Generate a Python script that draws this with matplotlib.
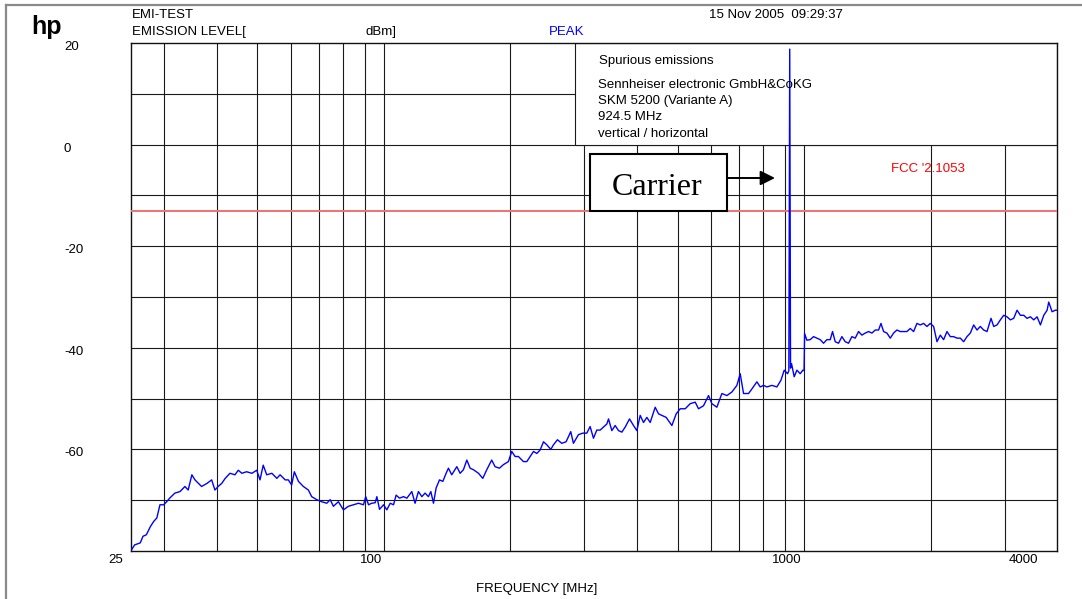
import matplotlib.pyplot as plt
import matplotlib.transforms as mtransforms
from matplotlib.lines import Line2D
from matplotlib.patches import Rectangle
from matplotlib.ticker import NullLocator

plt.rcParams['font.family'] = ['Liberation Sans', 'DejaVu Sans']

# measured trace (frequency in MHz, level in dBm)
freq_mhz = [
    25.1, 25.5, 26.3, 26.7, 27.2, 27.8, 28.3, 28.8, 29.3, 29.9, 30.4, 30.9, 31.8, 32.7,
    33.6, 34.2, 34.9, 35.5, 36.2, 36.8, 37.9, 38.9, 39.6, 40.3, 41.1, 41.9, 43.0, 44.2,
    45.0, 45.9, 47.1, 48.5, 49.8, 50.7, 51.6, 52.6, 54.1, 55.6, 56.6, 58.2, 59.2, 60.3,
    61.2, 62.6, 64.3, 66.1, 67.3, 69.2, 71.1, 73.1, 74.5, 75.8, 77.9, 80.1, 82.3, 84.6,
    87.0, 89.4, 90.5, 91.9, 93.5, 95.3, 96.2, 97.6, 99.8, 101.6, 103.5, 105.4, 106.9,
    108.9, 111.3, 113.4, 116.5, 118.6, 120.8, 123.1, 125.3, 127.6, 129.3, 131.2, 133.1,
    135.6, 138.1, 140.6, 142.4, 145.0, 149.1, 151.8, 154.6, 157.5, 160.4, 163.3, 167.9,
    171.9, 175.7, 180.5, 183.9, 188.3, 192.5, 197.8, 201.5, 205.2, 209.0, 214.8, 218.8,
    222.8, 227.0, 231.2, 235.4, 239.8, 244.2, 249.6, 253.2, 258.8, 265.0, 271.4, 278.4,
    282.5, 290.4, 297.4, 304.0, 309.6, 315.3, 321.1, 327.1, 333.1, 339.3, 342.4, 348.7,
    355.1, 361.7, 368.4, 375.2, 384.2, 392.7, 400.0, 407.3, 414.8, 422.5, 430.3, 442.2,
    450.4, 458.7, 469.7, 484.6, 496.2, 507.2, 521.3, 535.8, 550.7, 560.8, 576.4, 592.4,
    603.4, 620.1, 637.3, 655.1, 673.3, 692.0, 704.7, 717.7, 737.6, 751.3, 772.2, 786.4,
    801.0, 815.7, 838.4, 861.7, 880.8, 897.0, 913.6, 920.0, 924.5, 928.5, 933.6, 947.4,
    961.4, 979.1, 993.5, 1000.0, 1003.0, 1015.5, 1034.1, 1053.2, 1072.7, 1092.6, 1112.6,
    1133.3, 1154.2, 1168.9, 1186.2, 1208.0, 1230.5, 1253.0, 1276.1, 1299.8, 1323.7,
    1348.1, 1373.1, 1398.4, 1424.3, 1450.6, 1477.3, 1504.6, 1524.1, 1546.4, 1574.9,
    1603.9, 1633.5, 1663.6, 1694.3, 1725.5, 1757.3, 1789.8, 1822.8, 1856.4, 1890.8,
    1925.6, 1961.1, 1997.3, 2034.1, 2071.8, 2110.0, 2148.9, 2188.6, 2228.9, 2270.0,
    2312.1, 2354.7, 2398.1, 2442.4, 2487.3, 2533.4, 2580.0, 2627.6, 2676.3, 2725.8,
    2786.1, 2827.4, 2879.4, 2932.5, 2986.7, 3041.8, 3098.3, 3155.2, 3213.3, 3273.0,
    3333.3, 3394.5, 3457.5, 3521.3, 3586.0, 3652.6, 3719.9, 3789.0, 3822.3, 3893.9,
    3962.3, 3999.0,
]
level_dbm = [
    -79.7, -78.8, -78.4, -77.1, -76.8, -75.2, -74.2, -73.5, -70.9, -70.9, -70.3, -69.6, -68.6, -68.3,
    -67.3, -68.0, -65.0, -66.0, -66.7, -67.3, -66.7, -66.0, -68.0, -67.3, -66.7, -65.7, -64.7, -65.0,
    -64.1, -64.7, -64.4, -64.7, -64.1, -66.0, -63.1, -65.0, -64.7, -65.7, -65.0, -66.0, -66.0, -67.0,
    -64.4, -66.3, -67.3, -68.0, -69.3, -69.9, -70.3, -70.6, -69.9, -71.2, -70.3, -71.9, -71.2, -70.9,
    -70.6, -70.9, -69.3, -70.9, -70.6, -70.5, -69.3, -71.8, -70.9, -71.9, -70.6, -70.9, -69.0,
    -69.6, -69.3, -69.6, -68.3, -70.6, -68.3, -69.3, -68.6, -69.3, -68.3, -70.6, -67.6,
    -66.0, -66.3, -64.7, -63.7, -65.0, -63.4, -64.7, -64.0, -62.1, -63.7, -64.0, -64.7,
    -65.7, -64.0, -62.1, -63.4, -63.7, -63.0, -62.4, -60.4, -61.4, -61.4, -62.4, -62.4,
    -61.4, -60.4, -60.8, -60.1, -58.5, -59.1, -60.0, -59.1, -58.1, -58.8, -58.5, -56.5,
    -58.8, -57.1, -56.8, -56.8, -55.5, -57.8, -56.2, -56.2, -55.6, -55.0, -54.0, -56.3,
    -55.3, -56.3, -56.6, -55.6, -54.0, -55.3, -56.3, -53.3, -54.7, -53.7, -54.7, -51.7,
    -53.0, -53.3, -53.7, -55.3, -53.0, -52.0, -52.0, -51.0, -50.7, -52.0, -51.4, -49.4,
    -51.0, -51.7, -49.0, -49.4, -48.7, -47.4, -45.1, -49.0, -49.0, -48.1, -46.7, -47.7,
    -47.4, -47.7, -47.4, -47.7, -46.4, -44.4, -45.1, -44.5, 18.8, -44.0, -43.1, -45.7,
    -44.4, -45.1, -44.4, -44.5, -37.2, -38.5, -38.4, -37.8, -38.1, -38.4, -39.1,
    -38.4, -38.4, -36.8, -38.8, -39.1, -37.8, -38.8, -39.1, -37.8, -38.1,
    -36.8, -37.5, -37.1, -36.8, -37.1, -36.5, -36.5, -35.2, -36.8, -37.1,
    -38.1, -37.1, -36.5, -36.8, -36.8, -36.8, -36.2, -36.8, -35.2, -35.5,
    -35.2, -35.8, -35.2, -35.8, -38.8, -37.5, -38.4, -36.8, -37.8, -37.8,
    -38.1, -38.1, -38.8, -37.8, -37.1, -35.5, -36.5, -35.8, -36.5, -36.8,
    -34.2, -35.8, -35.5, -34.5, -33.6, -33.9, -34.5, -34.2, -32.6, -33.6,
    -33.6, -34.2, -33.9, -34.5, -33.9, -35.5, -33.6, -32.6, -31.0, -32.9,
    -32.6, -32.6,
]

limit_level = -13                     # FCC limit line
grid_freqs = [30, 40, 50, 60, 70, 80, 90, 100, 200, 300, 400, 500, 600, 700, 800, 900,
              1000, 2000, 3000]
grid_levels = [10, 0, -10, -20, -30, -40, -50, -60, -70]
x_tick_vals = [25, 100, 1000, 4000]
x_tick_text = ['25', '100', '1000', '4000']
x_tick_shift = [-15, -13, -17, -34]   # label offset from the gridline, px
y_tick_vals = [20, 0, -20, -40, -60]
info_lines = ['Sennheiser electronic GmbH&CoKG', 'SKM 5200 (Variante A)', '924.5 MHz',
              'vertical / horizontal']

W, H = 1082, 599


def fx(px):
    return px / W


def fy(py):
    return 1 - py / H


fig = plt.figure(figsize=(W / 100, H / 100), dpi=100)
ax = fig.add_axes([fx(131), fy(551), (1057 - 131) / W, (551 - 43) / H])
ax.set_xscale('log')
ax.set_xlim(25, 4000)
ax.set_ylim(-80, 20)
ax.xaxis.set_major_locator(NullLocator())
ax.xaxis.set_minor_locator(NullLocator())
ax.yaxis.set_major_locator(NullLocator())
for s in ax.spines.values():
    s.set_linewidth(1.0)
    s.set_color('#111111')

# grid
for f in grid_freqs:
    ax.axvline(f, color='#1a1a1a', lw=0.8, zorder=1)
for lv in grid_levels:
    ax.axhline(lv, color='#1a1a1a', lw=0.8, zorder=1)

# info box in the upper right corner
ax.add_patch(Rectangle((285, 0), 4000 - 285, 20, facecolor='white', edgecolor='#1a1a1a',
                       lw=0.8, zorder=2))
ax.text(0.5052, 0.965, 'Spurious emissions', transform=ax.transAxes, fontsize=9.5,
        va='center', zorder=3)
for i, line in enumerate(info_lines):
    fig.text(fx(598), fy(84.5 + i * 16.5), line, fontsize=9.5, va='center')

# limit line and trace
ax.axhline(limit_level, color='#f27070', lw=1.4, zorder=3)
ax.plot(freq_mhz, level_dbm, color='#0000ff', lw=1.0, zorder=4)
ax.text(0.821, 0.751, "FCC '2.1053", transform=ax.transAxes, color='#ff0000',
        fontsize=9.5, va='center')

# axis labels
for v, t, dx in zip(x_tick_vals, x_tick_text, x_tick_shift):
    tr = ax.get_xaxis_transform() + mtransforms.ScaledTranslation(dx / 100, 0, fig.dpi_scale_trans)
    ax.text(v, -0.0177, t, transform=tr, ha='center', va='center', fontsize=9.5)
ytr = mtransforms.blended_transform_factory(ax.transAxes, ax.transData) + \
    mtransforms.ScaledTranslation(0, -4 / 100, fig.dpi_scale_trans)
for v in y_tick_vals:
    ax.text(-0.0724, v, str(v), transform=ytr, ha='left', va='center', fontsize=9.5)
fig.text(fx(537), fy(589), 'FREQUENCY [MHz]', ha='center', va='center', fontsize=9.5)

# header
fig.text(fx(31), fy(27), 'hp', fontsize=18, fontweight='bold', va='center')
fig.text(fx(132), fy(15), 'EMI-TEST', fontsize=9.5, va='center')
fig.text(fx(132), fy(32), 'EMISSION LEVEL[', fontsize=9.5, va='center')
fig.text(fx(366), fy(32), 'dBm]', fontsize=9.5, va='center')
fig.text(fx(549), fy(32), 'PEAK', fontsize=9.5, va='center', color='#0000ff')
fig.text(fx(709), fy(15), '15 Nov 2005  09:29:37', fontsize=9.5, va='center')

# carrier callout
fig.add_artist(Rectangle((fx(590), fy(211)), (727 - 590) / W, (211 - 154) / H,
                         transform=fig.transFigure, facecolor='white', edgecolor='black',
                         lw=1.5, zorder=5))
fig.text(fx(657), fy(195), 'Carrier', family='Liberation Serif', fontsize=23,
         ha='center', va='baseline', zorder=6)
ax.annotate('', xy=(fx(775), fy(178)), xycoords='figure fraction',
            xytext=(fx(727), fy(178)), textcoords='figure fraction',
            arrowprops=dict(arrowstyle='-|>', color='black', lw=1.4, mutation_scale=22,
                            shrinkA=0, shrinkB=0), zorder=6)

# page frame
fig.add_artist(Line2D([fx(6), 1], [fy(5), fy(5)], transform=fig.transFigure,
                      color='#8a8a8a', lw=1.6))
fig.add_artist(Line2D([fx(6), fx(6)], [fy(5), 0], transform=fig.transFigure,
                      color='#8a8a8a', lw=1.6))

fig.savefig('out.png', dpi=100)
